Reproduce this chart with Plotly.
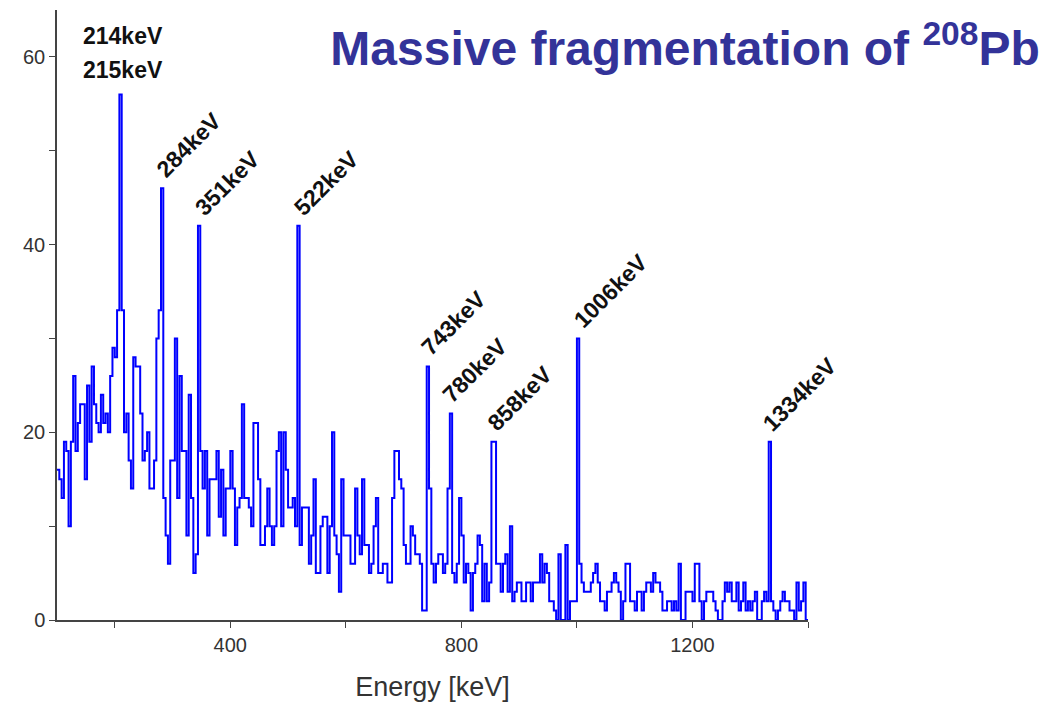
import numpy as np
import plotly.graph_objects as go

# ---------------- data ----------------
bin_start_kev = 100
bin_width_kev = 4

counts_100_196 = [16, 15, 13, 19, 18, 10, 19, 26, 18, 21, 23, 23, 15, 25, 19, 27, 23, 21, 20, 24, 21, 22, 20, 26, 29]
counts_200_296 = [28, 33, 56, 33, 20, 22, 17, 14, 28, 27, 27, 22, 17, 18, 20, 14, 14, 17, 30, 33, 46, 13, 9, 6, 17]
counts_300_396 = [17, 30, 13, 26, 18, 18, 9, 24, 13, 5, 7, 42, 18, 14, 18, 9, 15, 15, 15, 18, 11, 16, 9, 14, 14]
counts_400_496 = [18, 14, 8, 12, 13, 23, 13, 13, 12, 10, 21, 21, 15, 8, 8, 10, 14, 10, 8, 10, 18, 20, 10, 20, 16]
counts_500_596 = [12, 12, 13, 10, 42, 8, 12, 12, 12, 6, 9, 15, 5, 5, 10, 11, 11, 5, 10, 20, 9, 7, 3, 15, 9]
counts_600_696 = [9, 9, 6, 6, 14, 9, 7, 15, 8, 8, 5, 6, 10, 13, 5, 5, 6, 6, 4, 4, 13, 18, 18, 15, 14]
counts_700_796 = [8, 6, 6, 10, 9, 7, 7, 6, 1, 1, 27, 14, 6, 4, 6, 7, 7, 5, 6, 14, 22, 5, 4, 6, 13]
counts_800_896 = [9, 4, 6, 5, 1, 5, 6, 9, 8, 2, 6, 2, 4, 19, 19, 6, 6, 3, 6, 7, 3, 10, 2, 3, 4]
counts_900_996 = [4, 2, 2, 4, 4, 2, 4, 4, 4, 7, 4, 6, 5, 2, 2, 1, 0, 7, 0, 0, 8, 0, 2, 2, 2]
counts_1000_1096 = [30, 6, 4, 3, 3, 3, 4, 5, 6, 4, 2, 2, 1, 3, 3, 4, 5, 4, 3, 0, 2, 6, 6, 2, 2]
counts_1100_1196 = [1, 3, 3, 1, 3, 4, 4, 3, 5, 4, 4, 3, 1, 1, 2, 2, 1, 2, 1, 6, 0, 0, 3, 3, 3]
counts_1200_1296 = [2, 6, 6, 2, 0, 2, 3, 3, 3, 2, 1, 0, 0, 2, 4, 3, 4, 2, 2, 4, 1, 2, 4, 1, 2]
counts_1300_1396 = [1, 2, 3, 0, 0, 2, 3, 2, 19, 2, 1, 0, 1, 2, 3, 2, 2, 1, 1, 0, 4, 1, 2, 4, 0]

top_labels = ["214keV", "215keV"]
top_label_kev = 214
top_label_count = 56

peak_label_kev = [284, 351, 522, 743, 780, 858, 1006, 1334]
peak_label_count = [46, 42, 42, 27, 22, 19, 30, 19]

x_ticks = [400, 800, 1200]
y_ticks = [0, 20, 40, 60]
title_text = "Massive fragmentation of <sup>208</sup>Pb"
x_title = "Energy [keV]"

# ---------------- build ----------------
counts = (counts_100_196 + counts_200_296 + counts_300_396 + counts_400_496 +
          counts_500_596 + counts_600_696 + counts_700_796 + counts_800_896 +
          counts_900_996 + counts_1000_1096 + counts_1100_1196 +
          counts_1200_1296 + counts_1300_1396)
edges = bin_start_kev + bin_width_kev * np.arange(len(counts) + 1)
y_steps = counts + [counts[-1]]

FONT = "Liberation Sans, Arial, sans-serif"

fig = go.Figure()
fig.add_trace(go.Scatter(
    x=edges, y=y_steps, mode="lines",
    line=dict(shape="hv", color="#0000ff", width=2),
    hoverinfo="skip", showlegend=False,
))

annotations = []
for i, t in enumerate(top_labels):
    annotations.append(dict(
        x=top_label_kev, y=top_label_count, xref="x", yref="y",
        text=f"<b>{t}</b>", showarrow=False,
        xanchor="center", yanchor="bottom",
        yshift=9 + (1 - i) * 34,
        font=dict(family=FONT, size=23, color="#111111"),
    ))
for e, c in zip(peak_label_kev, peak_label_count):
    annotations.append(dict(
        x=e, y=c, xref="x", yref="y",
        text=f"<b>{e}keV</b>", showarrow=False,
        textangle=-45, xanchor="left", yanchor="bottom",
        xshift=-15, yshift=3,
        font=dict(family=FONT, size=23, color="#111111"),
    ))

axis_common = dict(
    showline=True, linecolor="#444444", linewidth=1.5,
    ticks="outside", ticklen=6, tickwidth=1.2, tickcolor="#444444",
    showgrid=False, zeroline=False,
    tickfont=dict(family=FONT, size=20, color="#333333"),
)

fig.update_layout(
    width=1044, height=709,
    margin=dict(l=57, r=236, t=10, b=89),
    paper_bgcolor="white", plot_bgcolor="white",
    title=dict(
        text=title_text, x=0.996, xanchor="right", y=0.932, yanchor="middle",
        font=dict(family=FONT, size=48, color="#333399", weight="bold"),
    ),
    xaxis=dict(
        range=[100, 1400], tickvals=x_ticks,
        minor=dict(dtick=200, tick0=0, ticks="outside", ticklen=6, tickcolor="#444444"),
        title=dict(text=x_title, font=dict(family=FONT, size=27, color="#333333"), standoff=22),
        **axis_common,
    ),
    yaxis=dict(
        range=[0, 65], tickvals=y_ticks,
        minor=dict(dtick=10, tick0=0, ticks="outside", ticklen=6, tickcolor="#444444"),
        **axis_common,
    ),
    annotations=annotations,
)

fig.write_html("out.html")
